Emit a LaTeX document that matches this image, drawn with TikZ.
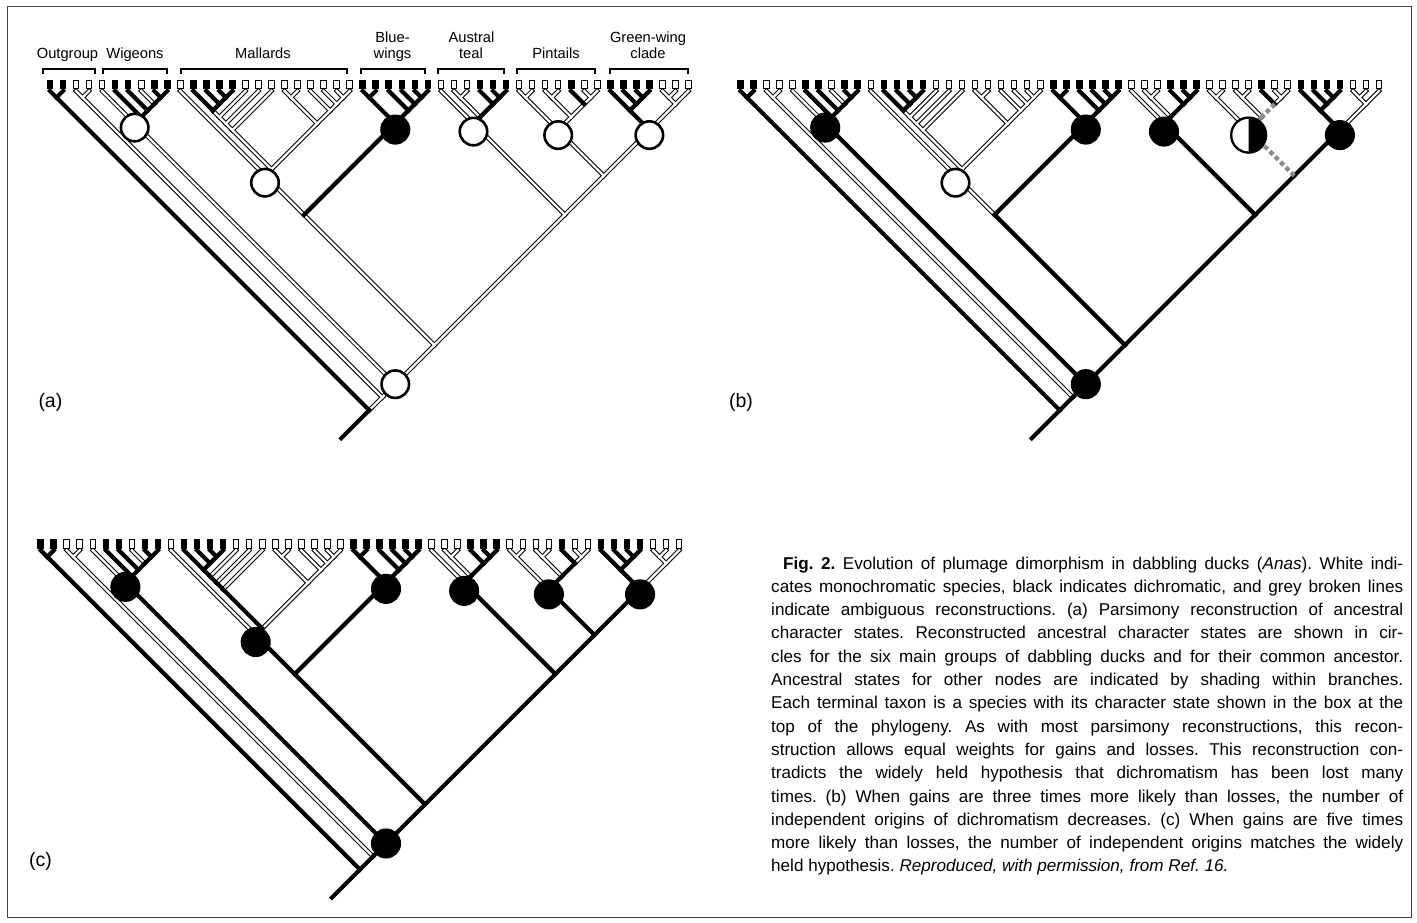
\documentclass[tikz,border=0pt]{standalone}
\usepackage{fontspec}
\setmainfont{Liberation Sans}

\def\tipgap{13.03}
\newcommand\grpfont{\fontsize{14.7}{16}\selectfont}
\newcommand\panfont{\fontsize{19.5}{22}\selectfont}
\newcommand\capfont{\fontsize{17.1}{23.3}\selectfont}

% internal nodes of the tree, by first/last tip
\newcommand\inodes{1/50,1/2,3/50,3/4,5/50,5/10,6/10,7/10,8/10,9/10,%
11/50,11/30,11/24,12/24,12/18,12/17,12/16,12/15,13/15,14/15,%
19/24,19/20,21/24,22/24,23/24,25/30,25/26,27/30,28/30,29/30,%
31/50,31/36,32/36,32/33,34/36,35/36,37/50,37/43,37/38,39/43,%
39/40,41/43,42/43,44/50,44/47,45/47,46/47,48/50,48/49}

% branches that look the same in (a), (b), (c)
\newcommand\wcom{t3/n3-4,t4/n3-4,t5/n5-10,t8/n8-10,t11/n11-24,%
t16/n12-16,t17/n12-17,t18/n12-18,t19/n19-20,t20/n19-20,t21/n21-24,%
t22/n22-24,t23/n23-24,t24/n23-24,t31/n31-36,t32/n32-33,t33/n32-33,%
t37/n37-38,t38/n37-38,t39/n39-40,t40/n39-40,t42/n42-43,t43/n42-43,%
t48/n48-49,t49/n48-49,t50/n48-50,n3-4/n3-50,n19-20/n19-24,%
n21-24/n19-24,n22-24/n21-24,n23-24/n22-24,n19-24/n12-24,%
n32-33/n32-36,n37-38/n37-43,n39-40/n39-43,n42-43/n41-43,%
n48-49/n48-50,n48-50/n44-50}
\newcommand\bcom{t1/n1-2,t2/n1-2,t6/n6-10,t7/n7-10,t9/n9-10,t10/n9-10,%
t12/n12-15,t13/n13-15,t14/n14-15,t15/n14-15,t25/n25-26,t26/n25-26,%
t27/n27-30,t28/n28-30,t29/n29-30,t30/n29-30,t34/n34-36,t35/n35-36,%
t36/n35-36,t41/n41-43,t44/n44-47,t45/n45-47,t46/n46-47,t47/n46-47,%
n1-2/n1-50,n6-10/n5-10,n7-10/n6-10,n8-10/n7-10,n9-10/n8-10,%
n13-15/n12-15,n14-15/n13-15,n25-30/n11-30,n25-26/n25-30,%
n27-30/n25-30,n28-30/n27-30,n29-30/n28-30,n34-36/n32-36,%
n35-36/n34-36,n44-47/n44-50,n45-47/n44-47,n46-47/n45-47,n1-50/st}
% branches whose state changes between panels
\newcommand\vdeep{n3-50/n1-50,n5-50/n3-50,n5-10/n5-50,n11-50/n5-50,%
n11-30/n11-50,n31-50/n11-50,n31-36/n31-50,n32-36/n31-36,%
n37-50/n31-50,n44-50/n37-50}
\newcommand\vmal{n11-24/n11-30,n12-24/n11-24,n12-18/n12-24,%
n12-17/n12-18,n12-16/n12-17,n12-15/n12-16}
\newcommand\vpin{n37-43/n37-50,n39-43/n37-43,n41-43/n39-43}

\tikzset{
  wout/.style={line width=4.4pt, line cap=rect},
  win/.style={white, line width=2.3pt, line cap=rect},
  bbr/.style={line width=4.2pt, line cap=rect},
  dbr/.style={black!45, line width=4.4pt, dash pattern=on 4.5pt off 3pt},
  tipb/.style={fill=black, minimum width=6.6pt, minimum height=9.6pt, inner sep=0pt},
  tipw/.style={draw, fill=white, line width=1pt, minimum width=5.6pt, minimum height=8.6pt, inner sep=0pt},
  circw/.style={circle, draw, fill=white, line width=2.6pt, minimum size=27.5pt, inner sep=0pt, outer sep=0pt},
  circb/.style={circw, fill=black},
  grplab/.style={font=\grpfont, anchor=base, inner sep=0pt},
  panlab/.style={font=\panfont, anchor=base west, inner sep=0pt},
}

\newcommand\duck{%
  \foreach \i in {1,...,50} \coordinate (t\i) at ({(\i-1)*\tipgap},0);
  \foreach \i/\j in \inodes \coordinate (n\i-\j) at ({((\i+\j)/2-1)*\tipgap},{(\j-\i)/2*\tipgap});
  \coordinate (st) at ({24.5*\tipgap-28},{24.5*\tipgap+28});
}
\newcommand\brout[1]{\foreach \ch/\pa in #1 {\draw[wout] (\ch) -- (\pa);}}
\newcommand\brin[1]{\foreach \ch/\pa in #1 {\draw[win] (\ch) -- (\pa);}}
\newcommand\brblack[1]{\foreach \ch/\pa in #1 {\draw[bbr] (\ch) -- (\pa);}}
\newcommand\brdash[1]{\foreach \ch/\pa in #1 {\draw[dbr] (\ch) -- (\pa);}}
\newcommand\tips{%
  \foreach \i in {1,2,6,7,9,10,12,13,14,15,25,26,27,28,29,30,34,35,36,41,44,45,46,47}
    \node[tipb] (bx\i) at ([yshift=6.3pt]t\i) {};
  \foreach \i in {3,4,5,8,11,16,17,18,19,20,21,22,23,24,31,32,33,37,38,39,40,42,43,48,49,50}
    \node[tipw] (bx\i) at ([yshift=6.3pt]t\i) {};
}
\newcommand\grp[2]{\draw[line width=1.1pt] (#1,74) -- (#1,69) -- (#2,69) -- (#2,74);}

\begin{document}
\begin{tikzpicture}[x=1pt,y=-1pt]
\useasboundingbox (0,0) rectangle (1417,923);
\draw[black!75, line width=1pt] (7,7) rectangle (1411,917);

% (a) equal weights
\begin{scope}[shift={(50,91)}, name prefix=a-]
  \duck
  \brout\wcom \brout\vdeep \brout\vmal \brout\vpin
  \brin\wcom \brin\vdeep \brin\vmal \brin\vpin
  \brblack\bcom
  \tips
  \node[circw] (wig) at ([yshift=-4pt]n5-10) {};
  \node[circw] (mal) at ([yshift=-7pt]n11-24) {};
  \node[circb] (blu) at ([yshift=-6pt]n25-30) {};
  \node[circw] (aus) at ([yshift=-8pt]n31-36) {};
  \node[circw] (pin) at ([yshift=-5pt]n37-43) {};
  \node[circw] (grn) at ([yshift=-5pt]n44-50) {};
  \node[circw] (anc) at (n5-50) {};
\end{scope}
\grp{43}{95} \node[grplab] (lout) at (67.5,59) {Outgroup};
\grp{103}{167} \node[grplab] (lwig) at (135,59) {Wigeons};
\grp{181}{347} \node[grplab] (lmal) at (263,59) {Mallards};
\grp{361}{425} \node[grplab] (lblu) at (392.5,42.7) {Blue-};
\node[grplab] (lblu2) at (392.5,58.7) {wings};
\grp{438}{504} \node[grplab] (laus) at (471.5,42.7) {Austral};
\node[grplab] (laus2) at (471,58.7) {teal};
\grp{517}{595} \node[grplab] (lpin) at (556,59) {Pintails};
\grp{610}{688} \node[grplab] (lgrn) at (648,42.7) {Green-wing};
\node[grplab] (lgrn2) at (648,58.7) {clade};
\node[panlab] (laba) at (38.3,407.6) {(a)};

% (b) gains three times more likely
\begin{scope}[shift={(740.5,91)}, name prefix=b-]
  \duck
  \brout\wcom \brout\vmal
  \brin\wcom \brin\vmal
  \brblack\bcom \brblack\vdeep
  \brdash\vpin
  \tips
  \node[circb] (wig) at ([yshift=-4pt]n5-10) {};
  \node[circw] (mal) at ([yshift=-7pt]n11-24) {};
  \node[circb] (blu) at ([yshift=-6pt]n25-30) {};
  \node[circb] (aus) at ([yshift=-8pt]n31-36) {};
  \node[circw, minimum size=35pt, line width=2pt] (pin) at ([yshift=-5pt]n37-43) {};
  \fill (pin.north) arc[start angle=90, end angle=-90, radius=17.5pt] -- cycle;
  \draw[line width=2pt] (pin.center) circle[radius=17.5pt];
  \node[circb] (grn) at ([yshift=-5pt]n44-50) {};
  \node[circb] (anc) at (n5-50) {};
\end{scope}
\node[panlab] (labb) at (728.8,407.6) {(b)};

% (c) gains five times more likely
\begin{scope}[shift={(40.7,550.3)}, name prefix=c-]
  \duck
  \brout\wcom
  \brin\wcom
  \brblack\bcom \brblack\vdeep \brblack\vmal \brblack\vpin
  \tips
  \node[circb] (wig) at ([yshift=-4pt]n5-10) {};
  \node[circb] (mal) at ([yshift=-7pt]n11-24) {};
  \node[circb] (blu) at ([yshift=-6pt]n25-30) {};
  \node[circb] (aus) at ([yshift=-8pt]n31-36) {};
  \node[circb] (pin) at ([yshift=-5pt]n37-43) {};
  \node[circb] (grn) at ([yshift=-5pt]n44-50) {};
  \node[circb] (anc) at (n5-50) {};
\end{scope}
\node[panlab] (labc) at (29,866.6) {(c)};

\node[anchor=north west, text width=632pt, align=justify, inner sep=0pt, font=\capfont] (cap) at (771,556.5)
{\frenchspacing\hyphenpenalty=10000 \tolerance=9999 \emergencystretch=30pt
\hspace*{12pt}\textbf{Fig. 2.} Evolution of plumage dimorphism in dabbling ducks (\textit{Anas}). White indi-\linebreak
cates monochromatic species, black indicates dichromatic, and grey broken lines\linebreak
indicate ambiguous reconstructions. (a) Parsimony reconstruction of ancestral\linebreak
character states. Reconstructed ancestral character states are shown in cir-\linebreak
cles for the six main groups of dabbling ducks and for their common ancestor.\linebreak
Ancestral states for other nodes are indicated by shading within branches.\linebreak
Each terminal taxon is a species with its character state shown in the box at the\linebreak
top of the phylogeny. As with most parsimony reconstructions, this recon-\linebreak
struction allows equal weights for gains and losses. This reconstruction con-\linebreak
tradicts the widely held hypothesis that dichromatism has been lost many\linebreak
times. (b) When gains are three times more likely than losses, the number of\linebreak
independent origins of dichromatism decreases. (c) When gains are five times\linebreak
more likely than losses, the number of independent origins matches the widely\linebreak
held hypothesis. \textit{Reproduced, with permission, from Ref. 16.}};
\end{tikzpicture}
\end{document}
